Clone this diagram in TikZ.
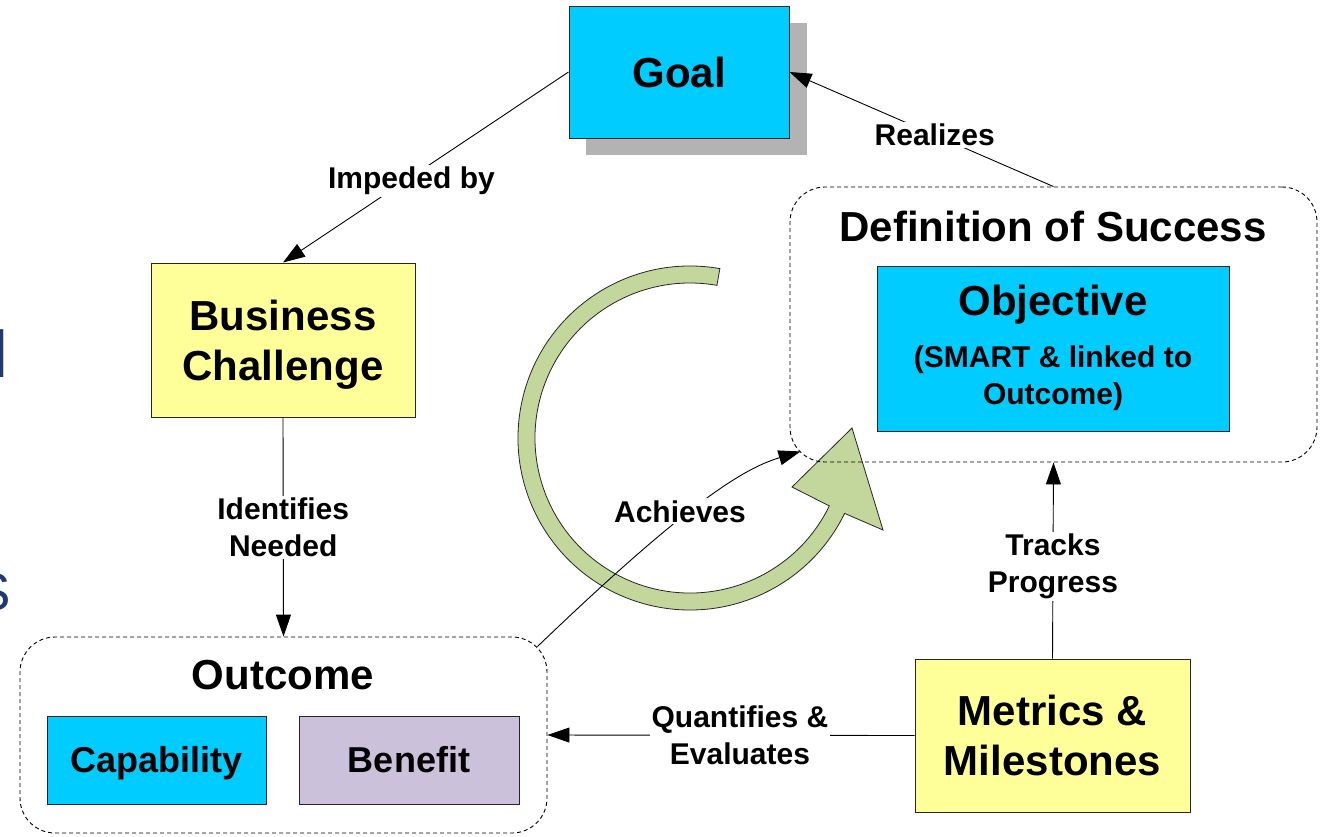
\documentclass[tikz,border=0pt]{standalone}
\usepackage{fontspec}
\setmainfont{Liberation Sans}
\usetikzlibrary{arrows.meta,calc}
\definecolor{boxcyan}{HTML}{00CCFF}
\definecolor{boxyellow}{HTML}{FFFF99}
\definecolor{boxlav}{HTML}{CCC1DA}
\definecolor{cyclegreen}{HTML}{C3D69B}
\definecolor{shadowgray}{HTML}{B3B3B3}
\definecolor{navyfrag}{HTML}{1F3A6E}
\begin{document}
\begin{tikzpicture}[x=1pt,y=-1pt,
  box/.style={draw=black!85, line width=1pt, inner sep=0pt},
  grp/.style={draw=black, dash pattern=on 4pt off 3pt, line width=0.9pt, rounded corners=35pt, inner sep=0pt},
  big/.style={inner sep=0pt, anchor=base, font=\bfseries\fontsize{42}{50}\selectfont},
  mid/.style={inner sep=0pt, anchor=base, font=\bfseries\fontsize{36}{42}\selectfont},
  small/.style={inner sep=0pt, anchor=base, font=\bfseries\fontsize{30}{37}\selectfont},
  conn/.style={draw=black, line width=0.9pt, -{Triangle[length=22pt,width=15pt]}},
  lbl/.style={fill=white, inner sep=2pt, align=center, font=\bfseries\fontsize{30}{37}\selectfont},
  cyclearrow/.style={fill=cyclegreen, draw=black!85, line width=0.8pt, line join=miter},
  frag/.style={inner sep=0pt, anchor=base east, text=navyfrag}
  ]
\useasboundingbox (0,0) rectangle (1322,836);

% fragments at the left edge
\node[frag, font=\fontsize{66}{70}\selectfont] (fragl) at (8.6,377) {l};
\node[frag, font=\fontsize{53}{60}\selectfont] (frags) at (11,610) {S};

% cycle arrow
\coordinate (cyc) at (690,438);
\draw[cyclearrow] ($(cyc)+(-80:172)$) arc[start angle=-80, end angle=-334, radius=172]
   -- (883,530) -- (852,428) -- (792,487)
   -- ($(cyc)+(-334:155)$) arc[start angle=-334, end angle=-80, radius=155] -- cycle;

% Goal with shadow
\fill[shadowgray] (586,23) rectangle (807,155);
\node[box, fill=boxcyan, minimum width=220pt, minimum height=132pt] (goal) at (679,72) {};
\node[big] (goalt) at (679,87) {Goal};

% Business challenge
\node[box, fill=boxyellow, minimum width=264pt, minimum height=154pt] (bc) at (283,340) {};
\node[big] (bct1) at (283,330) {Business};
\node[big] (bct2) at (283,380) {Challenge};

% Definition of success
\node[grp, minimum width=527pt, minimum height=275pt] (def) at (1053.5,324.5) {};
\node[big] (deft) at (1053,241) {Definition of Success};
\node[box, fill=boxcyan, minimum width=352pt, minimum height=165pt] (obj) at (1053,348.5) {};
\node[big] (objt) at (1053,315) {Objective};
\node[small] (objs1) at (1053,367) {(SMART \& linked to};
\node[small] (objs2) at (1053,404) {Outcome)};

% Outcome
\node[grp, minimum width=527pt, minimum height=196pt] (outc) at (283.5,735) {};
\node[big] (outct) at (283,689) {Outcome};
\node[box, fill=boxcyan, minimum width=219pt, minimum height=88pt] (cap) at (156.5,760) {};
\node[mid] (capt) at (156.5,772) {Capability};
\node[box, fill=boxlav, minimum width=220pt, minimum height=88pt] (ben) at (409,760) {};
\node[mid] (bent) at (409,772) {Benefit};

% Metrics
\node[box, fill=boxyellow, minimum width=275pt, minimum height=153pt] (met) at (1052.5,735.5) {};
\node[big] (mett1) at (1052.5,725) {Metrics \&};
\node[big] (mett2) at (1052.5,775) {Milestones};

% connectors
\coordinate (achs) at ($(outc.north east)+(-10,10)$);
\coordinate (ache) at ($(def.south west)+(11,-11)$);

\draw[conn] (goal.west) -- (bc.north) node[lbl, pos=0.55, yshift=-4pt] (limp) {Impeded by};
\draw[conn] (bc.south) -- (outc.north) node[lbl, midway] (lid) {Identifies\\Needed};
\draw[conn] (met.north) -- (def.south) node[lbl, pos=0.47] (ltr) {Tracks\\Progress};
\draw[conn] (met.west) -- (outc.east) node[lbl, pos=0.4755] (lqu) {Quantifies \&\\Evaluates};
\draw[conn] (def.north) -- (goal.east) node[lbl, pos=0.45] (lre) {Realizes};
\draw[conn] (achs) .. controls (690,500) and (745,468) .. (ache) node[lbl, pos=0.4, yshift=8pt] (lach) {Achieves};
\end{tikzpicture}
\end{document}
